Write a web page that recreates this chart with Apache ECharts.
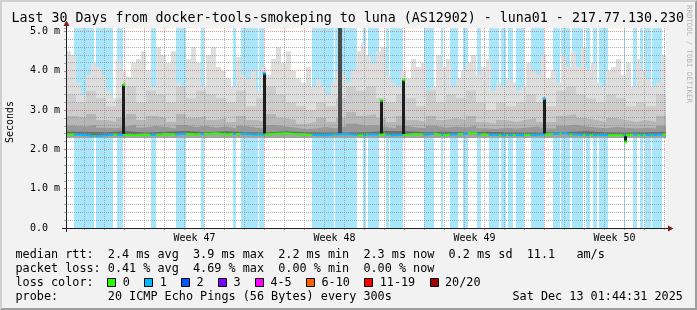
<!DOCTYPE html>
<html>
<head>
<meta charset="utf-8">
<script src="https://cdn.jsdelivr.net/npm/echarts@6/dist/echarts.min.js"></script>
<style>
html,body{margin:0;padding:0;background:#f2f2f2;overflow:hidden}
#chart{width:697px;height:310px}
</style>
</head>
<body>
<div id="chart"></div>
<script>
// ================= DATA =================
const TITLE = 'Last 30 Days from docker-tools-smokeping to luna (AS12902) - luna01 - 217.77.130.230';
const WATERMARK = 'RRDTOOL / TOBI OETIKER';
const Y_TITLE = 'Seconds';
// x = days since window start (Thu Nov 13 01:44:31 2025), 30 days
const DAYS = 30;
const weekStarts = [2.927, 9.927, 16.927, 23.927];          // Sunday 00:00
const weekLabels = ['Week 47', 'Week 48', 'Week 49', 'Week 50'];
const yTickValues = [0, 1, 2, 3, 4, 5];
const yTickLabels = ['0.0', '1.0 m', '2.0 m', '3.0 m', '4.0 m', '5.0 m'];
const yMax = 5.09;

// periods with 1/20 packet loss [from, to] in days
const lossBands = [
  [0.40,1.40],[1.48,2.37],[2.57,2.87],[4.23,4.48],[5.48,5.98],[6.73,6.90],
  [8.35,8.48],[8.73,9.61],[9.65,9.92],[12.32,13.41],[13.47,14.56],[14.85,15.02],
  [15.10,15.63],[15.98,16.15],[16.22,16.85],[17.88,18.38],[18.76,18.86],[19.22,19.60],
  [19.85,20.10],[20.57,20.73],[21.13,21.63],[21.77,22.02],[22.12,22.35],[22.48,22.90],
  [23.23,23.92],[24.35,24.68],[24.77,25.18],[25.32,25.85],[25.98,26.18],[26.35,26.57],
  [26.63,27.10],[27.88,27.97],[28.35,28.57],[28.72,28.85],[28.97,29.27],[29.32,29.82]
];

// smoke envelope (ms), evenly spaced over the 30 days
const smokeTop = [
  4.5,4.4,3.7,3.4,3.9,4.2,4.1,3.9,3.5,3.3,4.3,4.0,3.85,4.2,4.3,4.5,4.0,3.6,4.6,4.4,4.2,4.5,3.7,3.5,4.3,4.6,4.2,3.6,4.4,4.6,4.1,
  4.0,3.8,3.6,4.35,3.9,3.8,4.0,3.5,4.1,3.9,4.3,4.6,4.2,4.5,4.0,3.8,3.7,4.1,3.6,3.8,3.6,3.4,3.7,4.0,3.9,3.7,4.0,4.5,4.7,4.4,
  4.2,4.5,4.6,3.9,3.7,3.6,4.0,3.8,4.3,4.1,4.2,3.5,3.6,4.4,4.1,4.3,3.6,3.8,4.0,4.2,4.4,3.9,4.1,4.3,3.5,3.7,3.6,3.8,3.7,3.5,
  3.6,4.2,4.0,3.9,4.4,3.8,4.0,3.7,4.4,4.1,4.5,4.1,4.6,4.0,4.2,3.7,3.6,4.0,4.1,4.3,3.9,4.2,3.6,4.3,4.0,3.8,3.6,3.7,4.4
];
const smokeUpper = [
  3.4,3.2,3.5,3.3,3.1,3.3,3.6,3.2,3.5,3.4,3.2,3.6,3.3,3.5,3.4,
  3.3,3.2,3.5,3.1,3.3,3.6,3.4,3.2,3.1,3.0,3.2,3.1,3.3,3.6,3.5,
  3.6,3.3,3.2,3.4,3.3,3.1,3.5,3.2,3.4,3.3,3.5,3.2,3.0,3.2,3.1,
  3.2,3.4,3.2,3.1,3.5,3.6,3.4,3.3,3.2,3.4,3.3,3.1,3.2,3.1,3.4
];
const smokeMid = [
  2.85,2.8,2.9,2.75,2.7,2.8,2.9,2.75,2.85,2.8,2.7,2.9,2.8,2.85,2.75,
  2.8,2.7,2.85,2.75,2.7,2.9,2.8,2.75,2.65,2.7,2.8,2.7,2.8,2.95,2.85,
  2.9,2.8,2.7,2.85,2.75,2.7,2.85,2.75,2.8,2.75,2.85,2.7,2.65,2.75,2.7,
  2.75,2.8,2.7,2.7,2.85,2.9,2.8,2.75,2.7,2.8,2.75,2.7,2.75,2.7,2.85
];
const smokeDark = [
  2.6,2.58,2.62,2.55,2.54,2.58,2.63,2.56,2.6,2.57,2.53,2.62,2.57,2.6,2.55,
  2.58,2.54,2.6,2.55,2.53,2.62,2.58,2.55,2.52,2.53,2.57,2.54,2.58,2.65,2.6,
  2.62,2.57,2.54,2.6,2.56,2.54,2.6,2.55,2.58,2.56,2.6,2.54,2.52,2.55,2.53,
  2.55,2.58,2.54,2.53,2.6,2.63,2.58,2.56,2.54,2.57,2.55,2.53,2.55,2.53,2.6
];
const smokeDeep = [
  2.45,2.44,2.46,2.43,2.45,2.47,2.44,2.46,2.44,2.43,2.46,2.44,2.43,2.43,2.44,
  2.47,2.46,2.44,2.45,2.43,2.45,2.44,2.43,2.43,2.44,2.46,2.44,2.43,2.44,2.45
];
const smokeFloor = 2.29;
const medianRtt = [
  2.38,2.37,2.34,2.36,2.38,2.37,2.36,2.38,2.37,2.39,2.38,2.40,2.38,2.39,2.41,
  2.38,2.39,2.40,2.37,2.38,2.40,2.41,2.39,2.38,2.37,2.36,2.38,2.39,2.37,2.36,
  2.38,2.38,2.36,2.37,2.39,2.38,2.40,2.37,2.38,2.39,2.41,2.38,2.37,2.36,2.37,
  2.36,2.37,2.38,2.39,2.41,2.38,2.37,2.36,2.37,2.36,2.36,2.38,2.37,2.37,2.38
];
// short excursions of the median
const spikeDay    = [2.895, 9.905, 13.68, 15.755, 16.895, 23.905, 27.98];
const spikeBase   = [2.40, 2.38, 2.38, 2.39, 2.38, 2.37, 2.37];
const spikeMedian = [3.65, 3.94, 5.30, 3.25, 3.77, 3.29, 2.19];
const spikeLoss   = [0, 1, null, 0, 0, 1, 0];

const lossColors = ['#26ff00', '#00b8ff', '#0059ff', '#7e00ff', '#ff00ff', '#ff5e00', '#ff0000', '#a10000'];
const lossLabels = ['0', '1', '2', '3', '4-5', '6-10', '11-19', '20/20'];
const legendRtt  = 'median rtt:  2.4 ms avg  3.9 ms max  2.2 ms min  2.3 ms now  0.2 ms sd  11.1   am/s';
const legendLoss = 'packet loss: 0.41 % avg  4.69 % max  0.00 % min  0.00 % now';
const legendColorHead = 'loss color:';
const legendProbe = 'probe:       20 ICMP Echo Pings (56 Bytes) every 300s';
const legendDate  = 'Sat Dec 13 01:44:31 2025';

// ================= LAYOUT / STYLE =================
const W = 697, H = 310;
const G = {left: 66, top: 28, width: 600, height: 200};
const MONO = "'DejaVu Sans Mono', monospace";
const CW = 7.1, LX = 15.5;
const C_GRID = 'rgba(143,143,143,0.7)';
const C_MGRID = 'rgba(222,79,79,0.6)';
const C_AXIS = '#1f1f1f';
const C_ARROW = '#801f1f';
const C_BAND = '#a8e6fc';
const PXD = G.width / DAYS;            // pixels per day
const xEdge = d => (Math.round(G.left + d * PXD) - G.left) / PXD;

function steps(arr) {
  const dt = DAYS / arr.length;
  const d = arr.map((v, i) => [i * dt, v]);
  d.push([DAYS, arr[arr.length - 1]]);
  return d;
}
function smokeLayer(arr, color) {
  return {type: 'line', data: steps(arr), step: 'end', symbol: 'none', silent: true,
    lineStyle: {width: 0, opacity: 0}, areaStyle: {color: color, opacity: 1, origin: smokeFloor},
    z: 2, animation: false};
}

const dayLines = [];
for (let k = -1; k <= DAYS; k++) {
  const d = +(weekStarts[0] % 1 + k).toFixed(3);
  if (d > 0 && d < DAYS) dayLines.push(d);
}
const isWeek = d => weekStarts.some(w => Math.abs(w - d) < 1e-6);
const weekCenters = weekStarts.map(w => w + 3.5);

// median line split into loss-coloured runs
const inBand = x => lossBands.some(b => x >= b[0] && x < b[1]);
const mStep = DAYS / medianRtt.length;
const breaks = new Set();
medianRtt.forEach((v, i) => breaks.add(+(i * mStep).toFixed(4)));
lossBands.forEach(b => { breaks.add(b[0]); breaks.add(b[1]); });
breaks.add(DAYS);
const bp = Array.from(breaks).sort((a, b) => a - b);
const segs = [];
for (let i = 0; i < bp.length - 1; i++) {
  const a = bp[i], b = bp[i + 1], mid = (a + b) / 2;
  segs.push({a, b, v: medianRtt[Math.min(medianRtt.length - 1, Math.floor(mid / mStep))], loss: inBand(mid) ? 1 : 0});
}
function runData(loss) {
  const out = [];
  for (let i = 0; i < segs.length; i++) {
    const s = segs[i];
    if (s.loss !== loss) continue;
    out.push([s.a, s.v]);
    const next = segs[i + 1];
    if (!next || next.loss !== loss) { out.push([s.b, s.v]); out.push([s.b, '-']); }
  }
  return out;
}

const series = [];
// loss background bands
series.push({type: 'line', data: [[0, -10]], symbol: 'none', lineStyle: {opacity: 0}, silent: true, z: 1,
  markArea: {silent: true, itemStyle: {color: C_BAND, opacity: 1},
    data: lossBands.map(b => [{xAxis: xEdge(b[0])}, {xAxis: xEdge(b[1])}])}});
// smoke
series.push(smokeLayer(smokeTop, '#dedede'));
series.push(smokeLayer(smokeUpper, '#cdcdcd'));
series.push(smokeLayer(smokeMid, '#b6b6b6'));
series.push(smokeLayer(smokeDark, '#999999'));
series.push(smokeLayer(smokeDeep, '#6c6c6c'));
series.push(smokeLayer(medianRtt, '#a2a2a2'));
// grid lines drawn over the graph (rrdtool style), one custom item per line, snapped to pixel centres
const gridV = dayLines.map(d => [d, 0]);                       // vertical: [day, ymin]
const gridH = [];
for (let j = 1; j <= 25; j++) gridH.push([0, +(j * 0.2).toFixed(2)]);   // horizontal: [xmin, value]
function gridRender(vertical) {
  return function (params, api) {
    const cs = params.coordSys;
    let shape, major;
    if (vertical) {
      const d = api.value(0);
      const x = Math.floor(api.coord([d, 0])[0]) + 0.5;
      shape = {x1: x, y1: cs.y, x2: x, y2: cs.y + cs.height};
      major = isWeek(d);
    } else {
      const v = api.value(1);
      const y = Math.floor(api.coord([0, v])[1]) + 0.5;
      shape = {x1: cs.x, y1: y, x2: cs.x + cs.width, y2: y};
      major = Math.abs(v - Math.round(v)) < 1e-6;
    }
    return {type: 'line', shape: shape, style: {stroke: major ? C_MGRID : C_GRID, lineWidth: 1, lineDash: [1, 1], fill: null}};
  };
}
series.push({type: 'custom', z: 4, silent: true, clip: false, data: gridV, renderItem: gridRender(true)});
series.push({type: 'custom', z: 4, silent: true, clip: false, data: gridH, renderItem: gridRender(false)});
// spikes
series.push({type: 'custom', z: 5, silent: true, clip: true,
  data: spikeDay.map((d, i) => [d, spikeBase[i], spikeMedian[i], spikeLoss[i] == null ? 1 : 0]),
  renderItem: function (params, api) {
    const x = api.value(0), a = api.value(1), b = api.value(2), off = api.value(3);
    const lo = Math.min(a, b), hi = Math.min(Math.max(a, b), yMax + 0.2);
    const p1 = api.coord([x, lo]), p2 = api.coord([x, hi]);
    const w = off ? 4 : 3;
    return {type: 'rect', shape: {x: Math.round(p1[0] - w / 2), y: p2[1], width: w, height: p1[1] - p2[1]},
      style: {fill: off ? '#4a4a4a' : '#1c1c1c'}};
  }});
// median line coloured by loss
[0, 1].forEach(loss => series.push({type: 'line', data: runData(loss), step: 'end', symbol: 'none', silent: true,
  connectNulls: false, lineStyle: {width: 2, color: lossColors[loss]}, itemStyle: {color: lossColors[loss]}, z: 6}));
// spike tops (median value marks)
series.push({type: 'scatter', z: 7, silent: true, symbol: 'rect', symbolSize: [3, 3],
  data: spikeDay.map((d, i) => spikeLoss[i] == null ? null :
    {value: [d, spikeMedian[i]], itemStyle: {color: lossColors[spikeLoss[i]]}}).filter(Boolean)});

// ================= GRAPHICS (text, frame, axes) =================
const graphics = [];
graphics.push({type: 'polygon', silent: true, shape: {points: [[0,0],[0,H],[2,H-2],[2,2],[W-2,2],[W,0]]}, style: {fill: '#cfcfcf'}});
graphics.push({type: 'polygon', silent: true, shape: {points: [[W,0],[W,H],[0,H],[2,H-2],[W-2,H-2],[W-2,2]]}, style: {fill: '#9e9e9e'}});
const X0 = G.left, Y0 = G.top + G.height, X1 = G.left + G.width, Y1 = G.top;
graphics.push({type: 'line', silent: true, z: 20, shape: {x1: X0 - 4, y1: Y0 + 0.5, x2: X1 + 4, y2: Y0 + 0.5}, style: {stroke: C_AXIS, lineWidth: 1}});
graphics.push({type: 'line', silent: true, z: 20, shape: {x1: X0 + 0.5, y1: Y0 + 4, x2: X0 + 0.5, y2: Y1 - 4}, style: {stroke: C_AXIS, lineWidth: 1}});
graphics.push({type: 'polygon', silent: true, z: 21, shape: {points: [[X1 + 2, Y0 - 2.5],[X1 + 2, Y0 + 3.5],[X1 + 7.5, Y0 + 0.5]]}, style: {fill: C_ARROW}});
graphics.push({type: 'polygon', silent: true, z: 21, shape: {points: [[X0 - 2.5, Y1 - 2],[X0 + 3.5, Y1 - 2],[X0 + 0.5, Y1 - 7.5]]}, style: {fill: C_ARROW}});
graphics.push({type: 'text', silent: true, x: 11.5, y: 19, style: {text: TITLE, font: '13.3px ' + MONO, fill: '#000', verticalAlign: 'middle'}});
graphics.push({type: 'text', silent: true, x: 689, y: 54, rotation: -Math.PI / 2,
  style: {text: WATERMARK, font: '7.4px ' + MONO, fill: 'rgba(0,0,0,0.28)', align: 'center', verticalAlign: 'middle'}});
graphics.push({type: 'text', silent: true, x: 10, y: 122, rotation: Math.PI / 2,
  style: {text: Y_TITLE, font: '10px ' + MONO, fill: '#000', align: 'center', verticalAlign: 'middle'}});
function monoRow(str, col0, y) {
  const re = /\S+/g; let m;
  while ((m = re.exec(str)) !== null) {
    graphics.push({type: 'text', silent: true, x: LX + (col0 + m.index) * CW, y: y,
      style: {text: m[0], font: '11.8px ' + MONO, fill: '#000', verticalAlign: 'middle'}});
  }
}
const ROWS = [254.5, 268.5, 282.5, 296.5];
monoRow(legendRtt, 0, ROWS[0]);
monoRow(legendLoss, 0, ROWS[1]);
monoRow(legendColorHead, 0, ROWS[2]);
monoRow(legendProbe, 0, ROWS[3]);
monoRow(legendDate, 70, ROWS[3]);
let sx = LX + 13 * CW - 0.5;
lossLabels.forEach((lab, i) => {
  graphics.push({type: 'rect', silent: true, shape: {x: Math.round(sx) + 0.5, y: 278.5, width: 8, height: 8},
    style: {fill: lossColors[i], stroke: '#000', lineWidth: 1}});
  graphics.push({type: 'text', silent: true, x: sx + 15.5, y: ROWS[2],
    style: {text: lab, font: '11.8px ' + MONO, fill: '#000', verticalAlign: 'middle'}});
  sx = sx + 15.5 + lab.length * CW + 14.3;
});

// ================= CHART =================
const chart = echarts.init(document.getElementById('chart'), null, {renderer: 'canvas', width: W, height: H});
const snapX = d => (Math.floor(G.left + d * PXD) + 0.5 - G.left) / PXD;
chart.setOption({
  animation: false,
  backgroundColor: '#f2f2f2',
  grid: {left: G.left, top: G.top, width: G.width, height: G.height, show: true, backgroundColor: '#ffffff', borderWidth: 0, containLabel: false},
  xAxis: [
    {type: 'value', min: 0, max: DAYS, position: 'bottom',
      axisLine: {show: false}, splitLine: {show: false},
      axisTick: {show: true, customValues: weekStarts.map(snapX), length: 2, lineStyle: {color: C_MGRID}},
      axisLabel: {show: true, customValues: weekCenters, margin: 5, color: '#000', fontFamily: MONO, fontSize: 10,
        formatter: v => { const i = weekCenters.findIndex(c => Math.abs(c - v) < 1e-6); return i >= 0 ? weekLabels[i] : ''; }}},
    {type: 'value', min: 0, max: DAYS, position: 'bottom', gridIndex: 0,
      axisLine: {show: false}, splitLine: {show: false}, axisLabel: {show: false},
      axisTick: {show: true, customValues: dayLines.filter(d => !isWeek(d)).map(snapX), length: 2, lineStyle: {color: C_GRID}}}
  ],
  yAxis: [
    {type: 'value', min: 0, max: yMax, position: 'left',
      axisLine: {show: false}, splitLine: {show: false},
      axisTick: {show: true, customValues: yTickValues, length: 2, lineStyle: {color: C_MGRID}},
      axisLabel: {show: true, customValues: yTickValues, align: 'left', margin: 36, color: '#000', fontFamily: MONO, fontSize: 10,
        formatter: v => yTickLabels[Math.round(v)]}},
    {type: 'value', min: 0, max: yMax, position: 'left', interval: 0.2, gridIndex: 0,
      axisLine: {show: false}, splitLine: {show: false}, axisLabel: {show: false},
      axisTick: {show: true, length: 2, lineStyle: {color: C_GRID}}}
  ],
  series: series,
  graphic: graphics
});
</script>
</body>
</html>
